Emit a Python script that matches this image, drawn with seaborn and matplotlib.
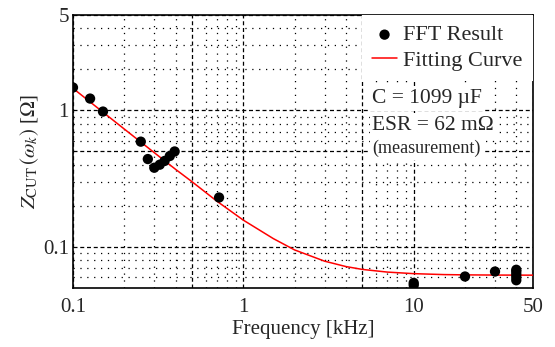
import numpy as np
import pandas as pd
import seaborn as sns
import matplotlib
matplotlib.use('Agg')
import matplotlib.pyplot as plt
from matplotlib.ticker import FixedLocator, FixedFormatter, NullFormatter

# FFT result points (frequency in kHz, impedance in ohm)
fft_freq = [0.1, 0.126, 0.15, 0.25, 0.275, 0.3, 0.323, 0.345, 0.37, 0.395,
            0.72, 10.0, 10.0, 20.0, 30.0, 40.0, 40.0, 40.0, 40.0, 40.0]
fft_z = [1.47, 1.22, 0.98, 0.59, 0.44, 0.38, 0.40, 0.426, 0.463, 0.50,
         0.23, 0.0545, 0.0525, 0.0607, 0.066, 0.057, 0.060, 0.063, 0.066, 0.068]

# fitting curve
fit_freq = [0.1, 0.15, 0.2, 0.3, 0.4, 0.5, 0.7, 1.0, 1.5, 2.0, 3.0, 4.0,
            5.0, 7.0, 10.0, 15.0, 20.0, 30.0, 50.0]
fit_z = [1.45, 0.97, 0.73, 0.49, 0.37, 0.30, 0.216, 0.157, 0.115, 0.095,
         0.0786, 0.0718, 0.0684, 0.0654, 0.0637, 0.0627, 0.0624, 0.0622, 0.0621]

x_major = [0.1, 0.5, 1, 5, 10, 50]
x_labels = ['0.1', '', '1', '', '10', '50']
y_major = [0.1, 0.5, 1, 5]
y_labels = ['0.1', '', '1', '5']

fft = pd.DataFrame({'f': fft_freq, 'z': fft_z})
fit = pd.DataFrame({'f': fit_freq, 'z': fit_z})

sns.set_style('ticks')
plt.rcParams['font.family'] = ['Liberation Serif', 'DejaVu Serif']
plt.rcParams['mathtext.fontset'] = 'stix'

fig = plt.figure(figsize=(5.55, 3.47), dpi=100)
ax = fig.add_axes([0.1315, 0.170, 0.8285, 0.787])

ax.set_xscale('log')
ax.set_yscale('log')

sns.lineplot(data=fit, x='f', y='z', color='red', lw=1.1, ax=ax,
             label='Fitting Curve', zorder=3)
sns.scatterplot(data=fft, x='f', y='z', color='black', s=55, edgecolor='none',
                ax=ax, label='FFT Result', zorder=4)

ax.set_xlim(0.1, 50)
ax.set_ylim(0.05, 5)

# grid: dashed on the 1 / 5 lines, dotted on the rest
x_minor = [m * d for d in [0.1, 1, 10] for m in range(2, 10) if m != 5 and m * d < 50]
y_minor = [m * d for d in [0.01, 0.1, 1] for m in range(2, 10)
           if m != 5 and 0.05 < m * d < 5]
ax.xaxis.set_major_locator(FixedLocator(x_major))
ax.xaxis.set_major_formatter(FixedFormatter(x_labels))
ax.xaxis.set_minor_locator(FixedLocator(x_minor))
ax.xaxis.set_minor_formatter(NullFormatter())
ax.yaxis.set_major_locator(FixedLocator(y_major))
ax.yaxis.set_major_formatter(FixedFormatter(y_labels))
ax.yaxis.set_minor_locator(FixedLocator(y_minor))
ax.yaxis.set_minor_formatter(NullFormatter())

ax.grid(which='major', color='black', lw=0.9, ls=(0, (3.2, 2.2)))
ax.grid(which='minor', color='black', lw=0.9, ls=(0, (1, 4.5)))
ax.tick_params(which='both', length=0, labelsize=15)
ax.tick_params(axis='x', pad=7)
ax.tick_params(axis='y', pad=3)
for sp in ax.spines.values():
    sp.set_linewidth(1.2)
    sp.set_color('black')

ax.set_xlabel('Frequency [kHz]', fontsize=15, labelpad=2)
ax.set_ylabel(r'$Z_{\mathrm{CUT}}\,(\omega_k)$ [$\Omega$]', fontsize=15, labelpad=1)

h, l = ax.get_legend_handles_labels()
leg = ax.legend(h[::-1], l[::-1], loc='upper right', fontsize=16,
                frameon=True, fancybox=False, framealpha=1, facecolor='white',
                edgecolor='none', handlelength=1.1, handletextpad=0.3,
                labelspacing=0.22, borderaxespad=0.0, borderpad=0.45)

box = dict(facecolor='white', edgecolor='none', pad=2)
ax.text(0.651, 0.678, 'C = 1099 µF', transform=ax.transAxes, fontsize=15.5,
        va='baseline', ha='left', bbox=box, zorder=5)
ax.text(0.651, 0.579, 'ESR = 62 mΩ', transform=ax.transAxes, fontsize=15.5,
        va='baseline', ha='left', bbox=box, zorder=5)
ax.text(0.651, 0.495, '(measurement)', transform=ax.transAxes, fontsize=13,
        va='baseline', ha='left', bbox=box, zorder=5)

fig.savefig('out.png', dpi=100)
